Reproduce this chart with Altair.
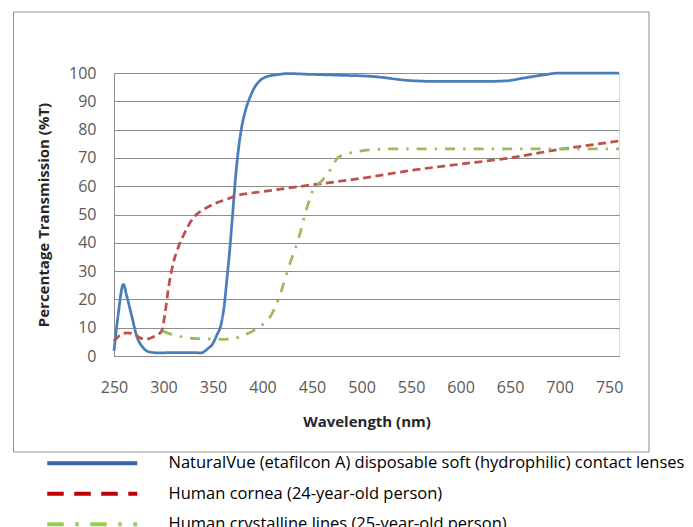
import altair as alt
import pandas as pd

# ---- series names ----
S_LENS = "NaturalVue (etafilcon A) disposable soft (hydrophilic) contact lenses"
S_CORNEA = "Human cornea (24-year-old person)"
S_CRYST = "Human crystalline lines (25-year-old person)"

# ---- values ----
lens_nm = [250, 254, 259.5, 263, 268, 273, 279.5, 286, 295, 310, 330, 338, 344, 350, 354,
           358, 361, 364, 367, 370, 373, 376, 379, 383, 388, 393, 398, 405, 415, 425,
           450, 480, 510, 550, 580, 620, 645, 665, 685, 700, 760]
lens_t = [1.8, 14, 25.3, 21, 14, 7, 2.9, 1.4, 1.1, 1.2, 1.2, 1.1, 2.4, 4.5, 7.5,
          11, 17, 27, 38, 51, 64, 74, 81, 87, 92, 95.5, 97.5, 98.8, 99.4, 99.8,
          99.5, 99.2, 98.8, 97.3, 97, 97, 97.2, 98.3, 99.4, 100, 100]

cornea_nm = [250, 256, 263, 270, 276, 281, 290, 298, 301.5, 305, 310, 315, 320, 325, 330,
             337, 344, 354, 364, 374, 385, 398, 425, 448, 475, 500, 550, 600, 650, 700,
             730, 760]
cornea_t = [5.3, 7.3, 8.2, 7.8, 6.5, 5.9, 6.8, 8.7, 15, 24, 33, 38.5, 42.5, 46, 48.8,
            51, 52.5, 54.2, 55.4, 56.7, 57.4, 58, 59.3, 60.4, 61.6, 62.8, 65.6, 67.8, 70, 73,
            74.5, 76]

cryst_nm = [299, 305, 310, 318, 325, 335, 348, 360, 370, 380, 390, 397.5, 403, 408, 413,
            418, 423, 428, 436, 444.5, 451, 460, 468, 476.5, 485, 498, 515, 530, 600, 700, 760]
cryst_t = [8.8, 8, 7.5, 6.8, 6.4, 6.1, 6, 5.9, 6.1, 7.2, 8.8, 10.4, 12, 14, 17.5,
           22, 27.5, 33, 41, 52, 58.6, 62, 65.6, 70.2, 71.4, 72.4, 73, 73.2, 73.2, 73.2, 73.2]

x_ticks = [250, 300, 350, 400, 450, 500, 550, 600, 650, 700, 750]
y_ticks = [0, 10, 20, 30, 40, 50, 60, 70, 80, 90, 100]

series = [S_LENS, S_CORNEA, S_CRYST]
line_colors = ["#4A7EBB", "#C0504D", "#9BBB59"]
legend_colors = ["#3B64AD", "#C00000", "#92D050"]
line_dashes = [[1, 0], [8, 4.5], [10, 8, 2.5, 8]]
legend_dashes = [[1, 0], [16.5, 10.5], [16.5, 11.5, 3.5, 11.5]]

rows = []
for name, xs, ys in [(S_LENS, lens_nm, lens_t), (S_CORNEA, cornea_nm, cornea_t), (S_CRYST, cryst_nm, cryst_t)]:
    for a, b in zip(xs, ys):
        rows.append({"series": name, "nm": a, "t": b})
df = pd.DataFrame(rows)

GRAY = "#8c8c8c"
FONT = "Open Sans"

xenc = alt.X("nm:Q", scale=alt.Scale(domain=[250, 760], nice=False, zero=False),
             axis=alt.Axis(values=x_ticks, title="Wavelength (nm)", grid=False, ticks=False,
                           domainColor=GRAY, labelFont=FONT, labelFontSize=16, labelColor="#595959",
                           labelPadding=23, labelFlush=False, labelOverlap=False,
                           titleFont=FONT, titleFontSize=15, titleFontWeight="bold",
                           titleColor="#262626", titlePadding=19))
yenc = alt.Y("t:Q", scale=alt.Scale(domain=[0, 100], nice=False),
             axis=alt.Axis(values=y_ticks, title="Percentage Transmission (%T)", grid=True,
                           gridColor=GRAY, ticks=False, domainColor=GRAY, labelFont=FONT,
                           labelFontSize=16, labelColor="#595959", labelPadding=18,
                           labelFlush=False, labelOverlap=False,
                           titleFont=FONT, titleFontSize=15, titleFontWeight="bold",
                           titleColor="#262626", titlePadding=17))

lines = alt.Chart(df).mark_line(interpolate="monotone", strokeWidth=2.75).encode(
    x=xenc, y=yenc,
    color=alt.Color("series:N", scale=alt.Scale(domain=series, range=line_colors), legend=None),
    strokeDash=alt.StrokeDash("series:N", scale=alt.Scale(domain=series, range=line_dashes), legend=None),
)

# custom horizontal stroke symbol: 18 units * sqrt(100)/2 = 90 px long, small row height
legend = alt.Legend(
    title=None, orient="none", legendX=-30, legendY=382, direction="vertical",
    symbolType="M-9,0H9", symbolSize=100, symbolStrokeWidth=4,
    labelFont=FONT, labelFontSize=16.5, labelColor="#000000", labelOffset=68,
    labelLimit=700, rowPadding=13.5, padding=0,
)

# legend-only layer (no rows drawn), carrying the legend's own colours and dashes
legend_layer = alt.Chart(df).transform_filter("false").mark_line(strokeWidth=4).encode(
    color=alt.Color("series:N", scale=alt.Scale(domain=series, range=legend_colors), legend=legend),
    strokeDash=alt.StrokeDash("series:N", scale=alt.Scale(domain=series, range=legend_dashes), legend=legend),
)

border = alt.Chart(alt.Data(values=[{"k": 0}])).mark_rect(
    fill="transparent", stroke="#8f8f8f", strokeWidth=1
).encode(x=alt.value(-100.5), x2=alt.value(535), y=alt.value(-61), y2=alt.value(379))

chart = alt.layer(border, lines, legend_layer).resolve_scale(
    color="independent", strokeDash="independent"
).properties(
    width=505, height=283,
    padding={"left": 5, "top": 3, "right": 0, "bottom": 0},
).configure_view(stroke="transparent").configure(font=FONT)

chart.save("out.html", embed_options={"renderer": "svg", "actions": False})
